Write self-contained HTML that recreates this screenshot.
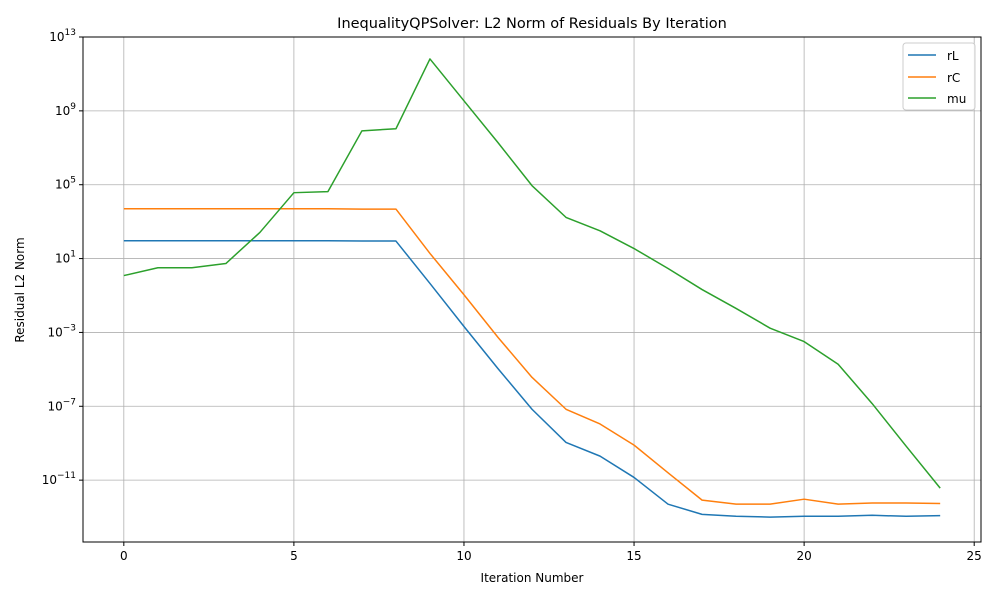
<!DOCTYPE html>
<html><head><meta charset="utf-8"><style>
body{margin:0;background:#fff;font-family:"DejaVu Sans","Liberation Sans",sans-serif}
svg text{font-family:"DejaVu Sans","Liberation Sans",sans-serif}
</style></head><body>
<svg id="chart" width="1000" height="600" xmlns="http://www.w3.org/2000/svg">
<rect width="1000" height="600" fill="#fff"/>
<text x="532" y="28" text-anchor="middle" font-size="14.5">InequalityQPSolver: L2 Norm of Residuals By Iteration</text>
<g id="grid"></g>
<g id="lines"></g>
<rect x="83" y="37" width="898" height="505" fill="none" stroke="#000" stroke-width="1"/>
<g id="axes"></g>
<text x="532" y="582" text-anchor="middle" font-size="12">Iteration Number</text>
<text transform="translate(24,290) rotate(-90)" text-anchor="middle" font-size="12">Residual L2 Norm</text>
<g>
<rect x="903" y="43" width="72" height="67" rx="3" fill="#fff" fill-opacity="0.8" stroke="#ccc"/>
<line x1="908" y1="55" x2="936" y2="55" stroke="#1f77b4" stroke-width="1.5"/>
<text x="947" y="60" font-size="12">rL</text>
<line x1="908" y1="77" x2="936" y2="77" stroke="#ff7f0e" stroke-width="1.5"/>
<text x="947" y="82" font-size="12">rC</text>
<line x1="908" y1="98" x2="936" y2="98" stroke="#2ca02c" stroke-width="1.5"/>
<text x="947" y="103" font-size="12">mu</text>
</g>
</svg>
<script>
const iterations = Array.from({length:25},(_,i)=>i);
const rL = [9.3e1,9.3e1,9.3e1,9.3e1,9.3e1,9.3e1,9.3e1,8.9e1,8.9e1,4.5e-1,2.1e-3,1.1e-5,6.9e-8,1.1e-9,2.0e-10,1.4e-11,5e-13,1.4e-13,1.1e-13,1.0e-13,1.1e-13,1.1e-13,1.25e-13,1.1e-13,1.2e-13];
const rC = [5.0e3,5.0e3,5.0e3,5.0e3,5.0e3,5.0e3,5.0e3,4.8e3,4.8e3,1.9e1,1.1e-1,5.4e-4,3.7e-6,6.9e-8,1.1e-8,7.9e-10,2.5e-11,8.3e-13,5.0e-13,5.0e-13,9.3e-13,5.0e-13,5.8e-13,5.8e-13,5.4e-13];
const mu = [1.2,3.2,3.2,5.4,2.6e2,3.7e4,4.2e4,8.3e7,1.07e8,6.5e11,3.5e9,1.9e7,8.9e4,1.7e3,3.2e2,3.5e1,2.9,2.1e-1,2.0e-2,1.7e-3,3.2e-4,1.9e-5,1.4e-7,6.9e-10,3.7e-12];
const xTicks = [0,5,10,15,20,25];
const yTickExps = [-11,-7,-3,1,5,9,13];

const NS="http://www.w3.org/2000/svg";
const X0=83,X1=981,Y0=37,Y1=542, xMin=-1.2,xMax=25.2, lMin=-14.35,lMax=13;
const xs=v=>X0+(v-xMin)/(xMax-xMin)*(X1-X0);
const ys=v=>Y1-(Math.log10(v)-lMin)/(lMax-lMin)*(Y1-Y0);
function mk(t,a,p){const e=document.createElementNS(NS,t);for(const k in a)e.setAttribute(k,a[k]);p.appendChild(e);return e;}
const grid=document.getElementById('grid'),axes=document.getElementById('axes'),lines=document.getElementById('lines');
xTicks.forEach(t=>{const x=xs(t);
 const g=mk('line',{x1:x,x2:x,y1:Y0,y2:Y1,stroke:'#b0b0b0','stroke-width':0.8},grid);
 
 
 mk('line',{x1:x,x2:x,y1:Y1,y2:Y1+4,stroke:'#000'},axes);
 const tx=mk('text',{x:x,y:Y1+18,'text-anchor':'middle','font-size':12},axes);
 
 
 tx.textContent=t;});
yTickExps.forEach(e=>{const y=ys(Math.pow(10,e));
 const g=mk('line',{x1:X0,x2:X1,y1:y,y2:y,stroke:'#b0b0b0','stroke-width':0.8},grid);
 
 
 mk('line',{x1:X0-4,x2:X0,y1:y,y2:y,stroke:'#000'},axes);
 const tx=mk('text',{x:X0-7,y:y+4,'text-anchor':'end','font-size':12},axes);
 
 
 tx.textContent='10';
 const s=mk('tspan',{dy:-6,'font-size':9},tx);s.textContent=String(e).replace('-','\u2212');});
[[rL,'#1f77b4','line-rl'],[rC,'#ff7f0e','line-rc'],[mu,'#2ca02c','line-mu']].forEach(([d,c,n])=>{
 const p=mk('polyline',{points:d.map((v,i)=>xs(iterations[i])+','+ys(v)).join(' '),fill:'none',stroke:c,'stroke-width':1.5,'stroke-linejoin':'round'},lines);
 
 });
</script>
</body></html>
